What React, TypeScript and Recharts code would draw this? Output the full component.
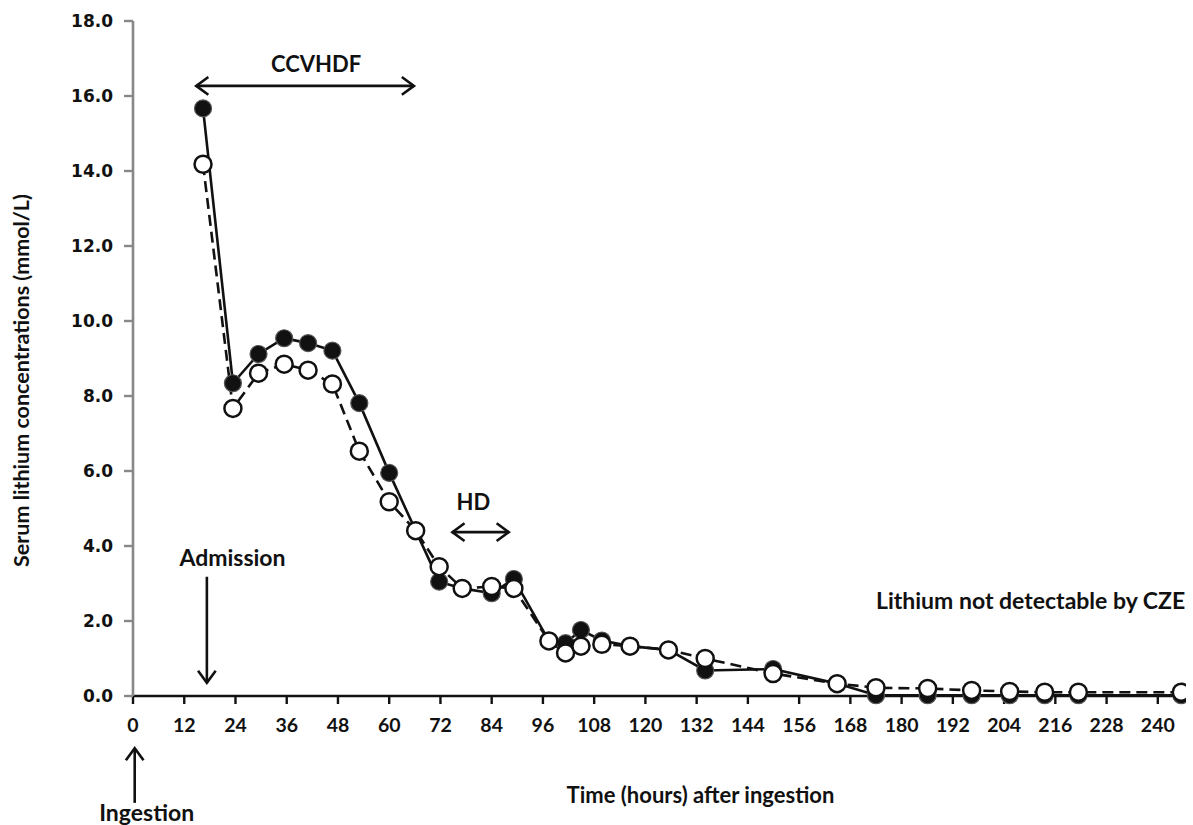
import React from 'react';
import { LineChart, Line, XAxis, YAxis, ReferenceLine, ReferenceDot } from 'recharts';

// sampling times (hours after ingestion), shared by both methods
const hours = [16.4, 23.4, 29.4, 35.4, 41.0, 46.7, 53.0, 60.0, 66.2, 71.7, 77.1, 84.0, 89.2, 97.4, 101.3, 104.9, 109.8, 116.4, 125.4, 134.0, 149.9, 164.9, 174.0, 186.1, 196.4, 205.3, 213.5, 221.4, 245.5];
// filled circles, solid line
const filledLi = [15.67, 8.34, 9.12, 9.54, 9.41, 9.21, 7.81, 5.95, 4.41, 3.05, 2.87, 2.74, 3.12, 1.47, 1.41, 1.76, 1.48, 1.33, 1.23, 0.68, 0.72, 0.33, 0.02, 0.02, 0.02, 0.02, 0.02, 0.02, 0.02];
// open circles, dashed line
const openLi = [14.18, 7.67, 8.61, 8.85, 8.69, 8.32, 6.53, 5.18, 4.41, 3.45, 2.87, 2.92, 2.87, 1.47, 1.15, 1.33, 1.38, 1.33, 1.23, 1.0, 0.6, 0.33, 0.22, 0.2, 0.15, 0.12, 0.1, 0.1, 0.1];

const xTicks = [0, 12, 24, 36, 48, 60, 72, 84, 96, 108, 120, 132, 144, 156, 168, 180, 192, 204, 216, 228, 240];
const yTicks = [0, 2, 4, 6, 8, 10, 12, 14, 16, 18];

const data = hours.map((h, i) => ({ h, filled: filledLi[i], open: openLi[i] }));

const FONT = 'Lato, "Open Sans", sans-serif';

const arrowShape = (heads: 'end' | 'both') => (p: any) => {
  const { x1, y1, x2, y2 } = p;
  const ang = Math.atan2(y2 - y1, x2 - x1);
  const L = 15;
  const A = Math.PI / 5;
  const head = (x: number, y: number, a: number) =>
    `M${x + L * Math.cos(a + A)},${y + L * Math.sin(a + A)} L${x},${y} L${x + L * Math.cos(a - A)},${y + L * Math.sin(a - A)}`;
  return (
    <g stroke="#111" strokeWidth={2.6} fill="none">
      <line x1={x1} y1={y1} x2={x2} y2={y2} />
      <path d={head(x2, y2, ang + Math.PI)} />
      {heads === 'both' && <path d={head(x1, y1, ang)} />}
    </g>
  );
};

const arrow = (key: string, a: [number, number], b: [number, number], heads: 'end' | 'both') => (
  <ReferenceLine
    key={key}
    segment={[{ x: a[0], y: a[1] }, { x: b[0], y: b[1] }]}
    ifOverflow="visible"
    shape={arrowShape(heads)}
  />
);

const note = (key: string, h: number, v: number, text: string, size = 22) => (
  <ReferenceDot
    key={key}
    x={h}
    y={v}
    r={1}
    ifOverflow="visible"
    shape={(p: any) => (
      <text x={p.cx} y={p.cy} textAnchor="middle" dominantBaseline="central" fontFamily={FONT} fontWeight={700} fontSize={size} fill="#111">
        {text}
      </text>
    )}
  />
);

const FilledDot = (p: any) => (
  <circle key={`f-${p.index}`} cx={p.cx} cy={p.cy} r={8.5} fill="#111" stroke="#555" strokeWidth={1.2} />
);
const OpenDot = (p: any) => (
  <circle key={`o-${p.index}`} cx={p.cx} cy={p.cy} r={8.5} fill="#fff" stroke="#111" strokeWidth={2.5} />
);

export default function App() {
  return (
    <div style={{ position: 'absolute', left: 0, top: 0, background: '#fff' }}>
      <LineChart width={1193} height={825} data={data} margin={{ top: 21, right: 7, bottom: 0, left: 0 }}>
        <XAxis
          type="number"
          dataKey="h"
          domain={[0, 246.6]}
          ticks={xTicks}
          allowDataOverflow
          height={129}
          axisLine={{ stroke: '#111', strokeWidth: 2.6 }}
          tickLine={{ stroke: '#111', strokeWidth: 2.4 }}
          tickSize={8}
          tickMargin={14}
          tick={{ fill: '#111', fontSize: 19.5, fontWeight: 700, fontFamily: FONT }}
          label={{
            content: (p: any) => (
              <text
                x={p.viewBox.x + p.viewBox.width / 2 + 41}
                y={p.viewBox.y + 98}
                textAnchor="middle"
                dominantBaseline="central"
                fontFamily={FONT}
                fontWeight={700}
                fontSize={22}
                fill="#111"
              >
                Time (hours)  after ingestion
              </text>
            ),
          }}
        />
        <YAxis
          domain={[0, 18]}
          ticks={yTicks}
          width={133}
          tickFormatter={(v: number) => v.toFixed(1)}
          axisLine={{ stroke: '#888', strokeWidth: 2.6 }}
          tickLine={{ stroke: '#888', strokeWidth: 2.4 }}
          tickSize={9}
          tickMargin={11}
          tick={{ fill: '#111', fontSize: 17, fontWeight: 700, fontFamily: '"DejaVu Sans", Verdana, sans-serif' }}
          label={{
            content: (p: any) => (
              <text
                transform={`translate(${p.viewBox.x + 21},${p.viewBox.y + p.viewBox.height / 2 + 22}) rotate(-90)`}
                textAnchor="middle"
                dominantBaseline="central"
                fontFamily={FONT}
                fontWeight={700}
                fontSize={21.5}
                fill="#111"
              >
                Serum lithium concentrations (mmol/L)
              </text>
            ),
          }}
        />
        <Line
          dataKey="filled"
          stroke="#111"
          strokeWidth={2.6}
          dot={FilledDot}
          activeDot={false}
          isAnimationActive={false}
        />
        <Line
          dataKey="open"
          stroke="#111"
          strokeWidth={2.6}
          strokeDasharray="11 6"
          dot={OpenDot}
          activeDot={false}
          isAnimationActive={false}
        />
        {arrow('ccvhdf', [14.8, 16.27], [65.8, 16.27], 'both')}
        {arrow('hd', [74.8, 4.37], [88.0, 4.37], 'both')}
        {arrow('adm', [17.3, 3.18], [17.3, 0.35], 'end')}
        {arrow('ing', [0.4, -2.85], [0.4, -1.39], 'end')}
        {note('t-ccvhdf', 42.9, 16.87, 'CCVHDF')}
        {note('t-hd', 79.7, 5.18, 'HD')}
        {note('t-adm', 23.3, 3.71, 'Admission', 23)}
        {note('t-ing', 3.2, -3.1, 'Ingestion', 23)}
        {note('t-li', 210.2, 2.56, 'Lithium not detectable by CZE', 23)}
      </LineChart>
    </div>
  );
}
